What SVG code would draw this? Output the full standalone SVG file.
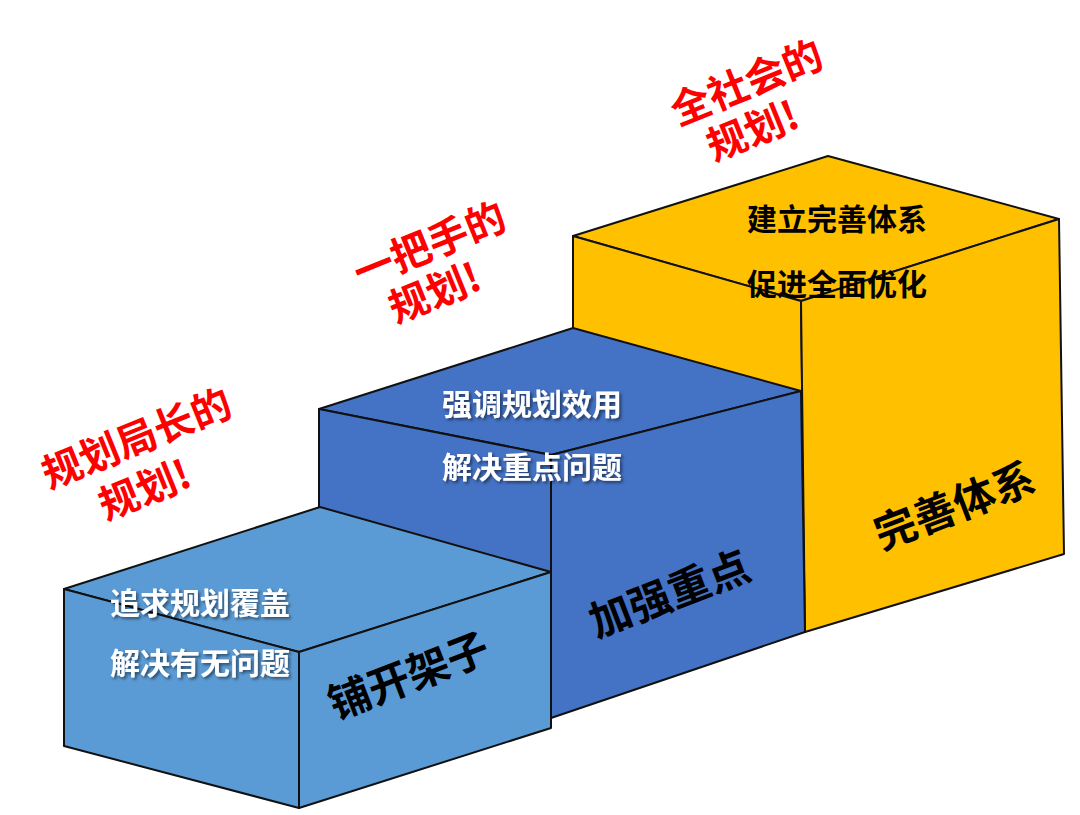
<svg xmlns="http://www.w3.org/2000/svg" width="1080" height="815" viewBox="0 0 1080 815">
<defs>
<filter id="sh" x="-10%" y="-20%" width="130%" height="150%"><feDropShadow dx="2" dy="2" stdDeviation="1.5" flood-color="#000" flood-opacity="0.5"/></filter>
<style>
.f{stroke:#111;stroke-width:2;stroke-linejoin:round}
text{font-family:"Noto Sans CJK SC","Noto Sans",sans-serif;font-weight:bold}
.w{fill:#fff;font-size:30px;filter:url(#sh)}
.k{fill:#000;font-size:30px}
.b{fill:#000;font-size:42px}
.r{fill:#f00;font-size:40px}
</style>
</defs>
<rect width="1080" height="815" fill="#fff"/>
<g id="box3">
<polygon class="f" fill="#FFC000" points="573,236 828,156 1059,219 801,301"/>
<polygon class="f" fill="#FFC000" points="573,236 801,301 805,632 573,560"/>
<polygon class="f" fill="#FFC000" points="801,301 1059,219 1064,554 805,632"/>
</g>
<g id="box2">
<polygon class="f" fill="#4472C4" points="319,409 573,328 801,391 551,455"/>
<polygon class="f" fill="#4472C4" points="319,409 551,455 551,718 319,660"/>
<polygon class="f" fill="#4472C4" points="551,455 801,391 805,632 551,718"/>
</g>
<g id="box1">
<polygon class="f" fill="#5B9BD5" points="64,589 320,507 551,572 299,652"/>
<polygon class="f" fill="#5B9BD5" points="64,589 299,652 299,808 64,746"/>
<polygon class="f" fill="#5B9BD5" points="299,652 551,572 551,728 299,808"/>
</g>
<g id="labels">
<text class="w" x="200" y="614" text-anchor="middle">追求规划覆盖</text>
<text class="w" x="200" y="674" text-anchor="middle">解决有无问题</text>
<text class="w" x="532" y="415" text-anchor="middle">强调规划效用</text>
<text class="w" x="532" y="478" text-anchor="middle">解决重点问题</text>
<text class="k" x="837" y="230" text-anchor="middle">建立完善体系</text>
<text class="k" x="837" y="295" text-anchor="middle">促进全面优化</text>
<text class="b" transform="translate(414,690) rotate(-21)" text-anchor="middle">铺开架子</text>
<text class="b" transform="translate(675,608) rotate(-21)" text-anchor="middle">加强重点</text>
<text class="b" transform="translate(960,520) rotate(-21)" text-anchor="middle">完善体系</text>
<text class="r" transform="translate(142,452) rotate(-22)" text-anchor="middle">规划局长的</text>
<text class="r" transform="translate(150,503) rotate(-22)" text-anchor="middle">规划!</text>
<text class="r" transform="translate(435,258) rotate(-22)" text-anchor="middle">一把手的</text>
<text class="r" transform="translate(440,306) rotate(-22)" text-anchor="middle">规划!</text>
<text class="r" transform="translate(752,96) rotate(-22)" text-anchor="middle">全社会的</text>
<text class="r" transform="translate(758,144) rotate(-22)" text-anchor="middle">规划!</text>
</g>
</svg>
